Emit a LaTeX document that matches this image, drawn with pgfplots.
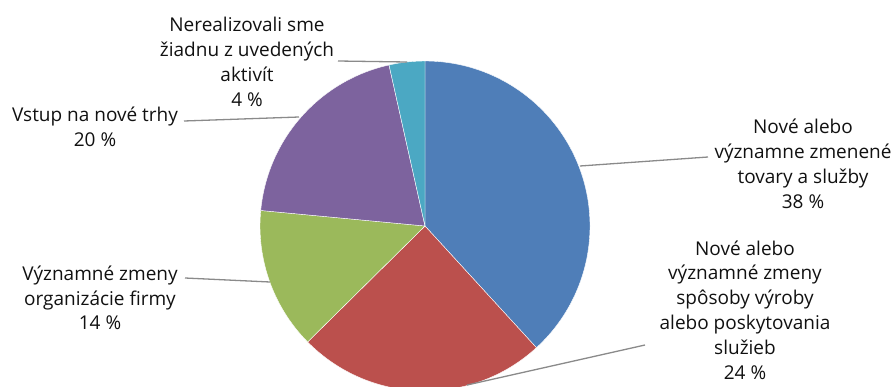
\documentclass[border=0pt]{standalone}
\usepackage{pgfplots}
\pgfplotsset{compat=1.18}
\usepackage{pgfplotstable}
\usepackage{fontspec}
\setmainfont{Open Sans}
\definecolor{cBlue}{HTML}{4F7EB8}
\definecolor{cRed}{HTML}{BB504D}
\definecolor{cGreen}{HTML}{9BB95B}
\definecolor{cPurple}{HTML}{7D639E}
\definecolor{cTeal}{HTML}{4BA8C3}
\definecolor{cLead}{HTML}{8A8A8A}
\definecolor{cText}{HTML}{111111}
\pgfplotstableread{
value
38.2
24.4
13.9
20.0
3.5
}\piedata
\begin{document}
\begin{tikzpicture}
\pgfplotstablegetelem{0}{value}\of\piedata\let\vA\pgfplotsretval
\pgfplotstablegetelem{1}{value}\of\piedata\let\vB\pgfplotsretval
\pgfplotstablegetelem{2}{value}\of\piedata\let\vC\pgfplotsretval
\pgfplotstablegetelem{3}{value}\of\piedata\let\vD\pgfplotsretval
\pgfplotstablegetelem{4}{value}\of\piedata\let\vE\pgfplotsretval
\pgfmathsetmacro\aA{90}
\pgfmathsetmacro\aB{\aA-3.6*\vA}
\pgfmathsetmacro\aC{\aB-3.6*\vB}
\pgfmathsetmacro\aD{\aC-3.6*\vC}
\pgfmathsetmacro\aE{\aD-3.6*\vD}
\pgfmathsetmacro\aF{\aE-3.6*\vE}
\begin{axis}[scale only axis, width=895pt, height=386pt,
  xmin=0, xmax=895, ymin=0, ymax=386, y dir=reverse, hide axis, clip=true]
\fill[cBlue, draw=white, line width=0.4pt] (axis cs:425,226) -- ++(\aA:165pt) arc[start angle=\aA, end angle=\aB, radius=165pt] -- cycle;
\fill[cRed, draw=white, line width=0.4pt] (axis cs:425,226) -- ++(\aB:165pt) arc[start angle=\aB, end angle=\aC, radius=165pt] -- cycle;
\fill[cGreen, draw=white, line width=0.4pt] (axis cs:425,226) -- ++(\aC:165pt) arc[start angle=\aC, end angle=\aD, radius=165pt] -- cycle;
\fill[cPurple, draw=white, line width=0.4pt] (axis cs:425,226) -- ++(\aD:165pt) arc[start angle=\aD, end angle=\aE, radius=165pt] -- cycle;
\fill[cTeal, draw=white, line width=0.4pt] (axis cs:425,226) -- ++(\aE:165pt) arc[start angle=\aE, end angle=\aF, radius=165pt] -- cycle;
% leader lines
\draw[cLead, line width=1.3pt] (axis cs:338,61) -- (axis cs:407,62);
\draw[cLead, line width=1.3pt] (axis cs:184,121) -- (axis cs:299,117);
\draw[cLead, line width=1.3pt] (axis cs:185,278) -- (axis cs:270,282);
\draw[cLead, line width=1.3pt] (axis cs:580,166) -- (axis cs:708,157);
\draw[cLead, line width=1.3pt] (axis cs:467,385) -- (axis cs:645,345);
% labels
\tikzset{lab/.style={font=\fontsize{19}{24.8}\selectfont, align=center, text=cText, inner sep=0pt}}
\node[lab] at (axis cs:247,62) {Nerealizovali sme\\žiadnu z uvedených\\aktivít\\4~\%};
\node[lab] at (axis cs:95,127) {Vstup na nové trhy\\20~\%};
\node[lab] at (axis cs:100,298) {Významné zmeny\\organizácie firmy\\14~\%};
\node[lab] at (axis cs:803,164) {Nové alebo\\významne zmenené\\tovary a služby\\38~\%};
\node[lab] at (axis cs:745,310) {Nové alebo\\významné zmeny\\spôsoby výroby\\alebo poskytovania\\služieb\\24~\%};
\end{axis}
\pgfresetboundingbox
\path (current axis.south west) rectangle (current axis.north east);
\end{tikzpicture}
\end{document}
